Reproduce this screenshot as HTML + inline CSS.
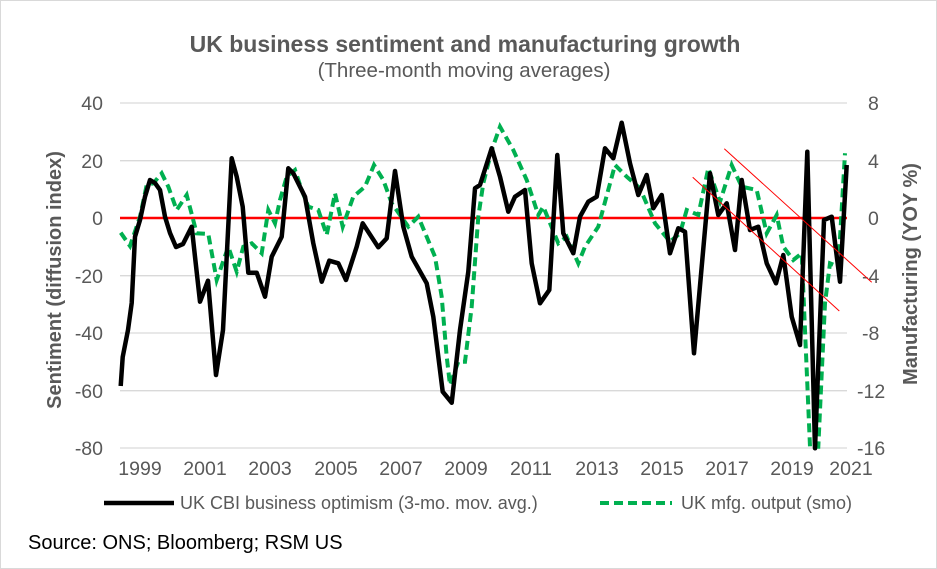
<!DOCTYPE html>
<html><head><meta charset="utf-8"><style>
body{margin:0;background:#fff}
svg{display:block;font-family:"Liberation Sans",Arial,sans-serif}
</style></head><body>
<svg width="937" height="569" viewBox="0 0 937 569">
<rect x="0.5" y="0.5" width="936" height="568" fill="#fff" stroke="#d9d9d9"/>
<text x="465" y="52" text-anchor="middle" font-size="23" font-weight="bold" fill="#595959">UK business sentiment and manufacturing growth</text>
<text x="464" y="77" text-anchor="middle" font-size="20.5" fill="#595959">(Three-month moving averages)</text>
<g stroke="#d9d9d9" stroke-width="1.3">
<line x1="120" x2="847" y1="103" y2="103"/><line x1="120" x2="847" y1="160.7" y2="160.7"/>
<line x1="120" x2="847" y1="275.7" y2="275.7"/><line x1="120" x2="847" y1="333" y2="333"/>
<line x1="120" x2="847" y1="390.7" y2="390.7"/><line x1="120" x2="847" y1="448" y2="448"/>
</g>
<g font-size="19.5" fill="#595959" text-anchor="end">
<text x="103" y="110">40</text><text x="103" y="168">20</text><text x="103" y="225">0</text>
<text x="103" y="283">-20</text><text x="103" y="340">-40</text><text x="103" y="398">-60</text><text x="103" y="455">-80</text>
</g>
<g font-size="19.5" fill="#595959">
<text x="868" y="110">8</text><text x="868" y="168">4</text><text x="868" y="225">0</text>
<text x="862" y="283">-4</text><text x="862" y="340">-8</text><text x="857" y="398">-12</text><text x="857" y="455">-16</text>
</g>
<g font-size="19.5" fill="#595959" text-anchor="middle">
<text x="140" y="475">1999</text><text x="205" y="475">2001</text><text x="270" y="475">2003</text>
<text x="336" y="475">2005</text><text x="401" y="475">2007</text><text x="466" y="475">2009</text>
<text x="531" y="475">2011</text><text x="597" y="475">2013</text><text x="662" y="475">2015</text>
<text x="727" y="475">2017</text><text x="792" y="475">2019</text><text x="851" y="475">2021</text>
</g>
<text transform="translate(61,280) rotate(-90)" text-anchor="middle" font-size="20" font-weight="bold" fill="#595959">Sentiment (diffusion index)</text>
<text transform="translate(917,274) rotate(-90)" text-anchor="middle" font-size="20" font-weight="bold" fill="#595959">Manufacturing (YOY %)</text>
<line x1="120" x2="847" y1="218" y2="218" stroke="#ff0000" stroke-width="2.5"/>
<polyline fill="none" stroke="#00b050" stroke-width="4" stroke-dasharray="9,5" points="120.7,232.7 130,246 140,216.7 146.7,185 153.3,183.3 161.7,173.3 168.3,186.7 176.7,210 186.7,195 196.7,233.3 208.3,234 216.7,280 228.3,246.7 236.7,271.7 243.3,246.7 251.7,243.3 261.7,253.3 268.3,210 275,223.3 280,200 286.7,176.7 295,170 301.7,190 308.3,206.7 318.3,210 326.7,235 335,193.3 342.7,226.7 353.3,196.7 365,186.7 374,165 383.3,180 391.7,203.3 408.3,226.7 418.3,216.7 435,256.7 441.7,296.7 446.7,356.7 450,385 458.3,361.7 465,361.7 471.7,306.7 478.3,216.7 483.3,183.3 491.7,150 500,126.7 513.3,150 526.7,180 538.3,215 543.3,206.7 558.3,243.3 566.7,236.7 578.3,263.3 585,246.7 598.3,226.7 615,165 626.7,176.7 640,188.3 655,223.3 670,241.7 680,233.3 686.7,210 698.3,215 708.3,168.3 720,201.7 731.7,165 741.7,186.7 756.7,190 766.7,233.3 776.7,215 783.3,246.7 793.3,260 801.7,253.3 810,446.7 818.3,446.7 825,303.3 830,263.3 838.3,266.7 845,153.3"/>
<polyline fill="none" stroke="#000" stroke-width="4.5" stroke-linejoin="round" points="120.7,386 122.7,357 128,330 131.7,303 135,236.7 140,220 145,196.7 150,180 155,183 160,190 165,216.7 170,233 176,247 183,244 191.7,226.7 195,256.7 200,301.7 208,280.7 216,375 223,330 231.7,158.3 236.7,176.7 242.7,206.7 248.3,272.7 256.7,272.7 265,296.7 271.7,256.7 281.7,236.7 288.3,168.3 293.3,173.3 305,196.7 313.3,243.3 321.7,281.7 329.3,260.7 338.3,263.3 346,280 356.7,246.7 362.7,223.3 378.3,247.3 386.7,238.3 395,171 403.3,226.7 411.7,256.7 426.7,283.3 433.3,316.7 442.7,391.7 451.7,402.7 460,330 468.3,271.7 475,188.3 480,185 491.7,148.3 500,176.7 508.3,211.7 515,196.7 525,190 531.7,263.3 540,303.3 549.3,290 557.3,155 563.3,233.3 573.3,253.3 580,216.7 588.3,201.7 596.7,196.7 605,148.3 613.3,158.3 621.7,122.7 630,163.3 638.3,195 646.7,175 653.3,208.3 661.7,195 670,253.3 678.3,228.3 685,231.7 694,353.3 701.7,266.7 710,173.3 718.3,215 726.7,203.3 735,250 741.7,180 750,230 758.3,226.7 766.7,263.3 776,283.3 783.3,255 791.7,316.7 800,345 807.3,151.7 815,448.3 824,220 831.7,216.7 840,281.7 846.7,165"/>
<line x1="692.7" y1="177.3" x2="839.3" y2="311" stroke="#ff0000" stroke-width="1"/>
<line x1="724.3" y1="148.7" x2="871.7" y2="282.3" stroke="#ff0000" stroke-width="1"/>
<line x1="104" x2="174" y1="503" y2="503" stroke="#000" stroke-width="4.5"/>
<text x="180" y="509" font-size="18" fill="#595959">UK CBI business optimism (3-mo. mov. avg.)</text>
<line x1="600" x2="672" y1="503" y2="503" stroke="#00b050" stroke-width="4" stroke-dasharray="9,5"/>
<text x="681" y="509" font-size="18" fill="#595959">UK mfg. output (smo)</text>
<text x="28" y="549" font-size="20" fill="#000">Source: ONS; Bloomberg; RSM US</text>
</svg>
</body></html>
